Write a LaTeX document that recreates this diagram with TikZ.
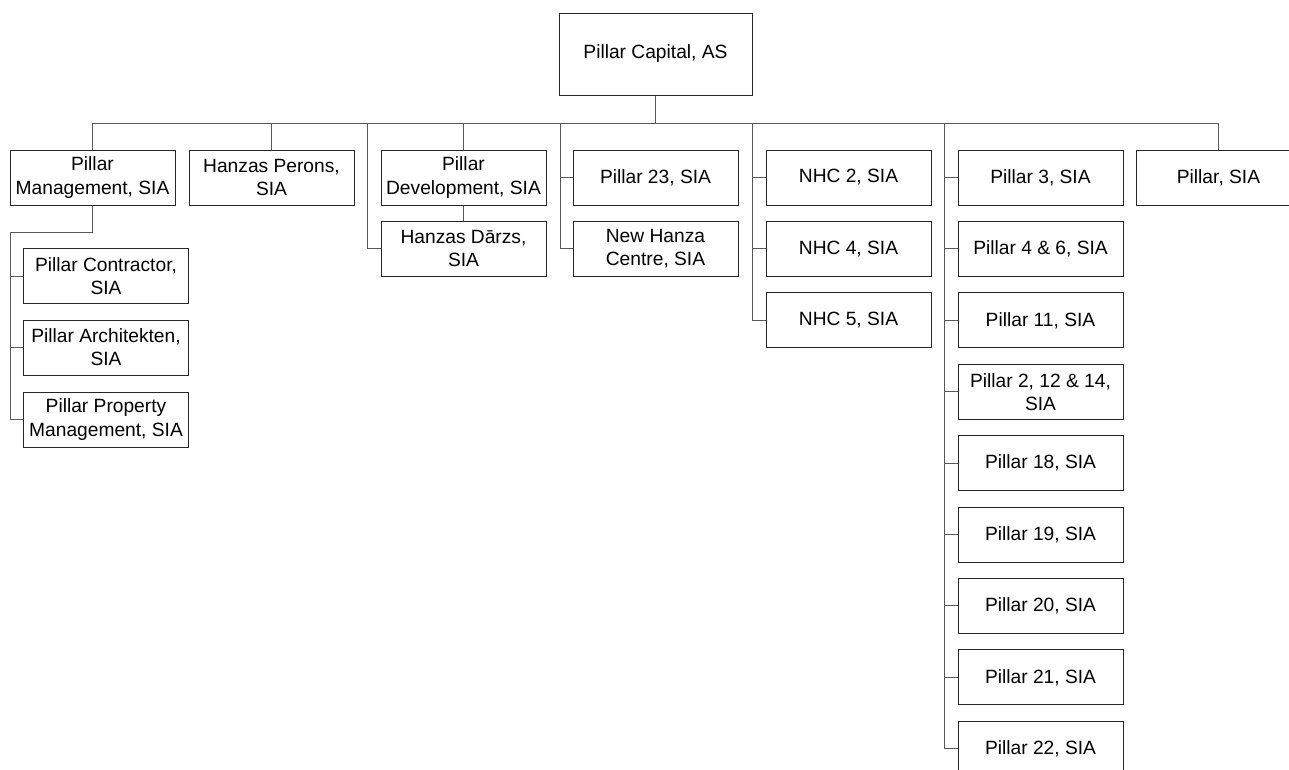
\documentclass[tikz,border=0pt]{standalone}
\usepackage{fontspec}
\setmainfont{Liberation Sans}
\usepackage{tikz}
\tikzstyle{unit}=[draw=black!85, line width=0.75pt, minimum width=123.75pt, minimum height=41.25pt, inner sep=1pt, align=center, font=\fontsize{14.4}{17.3}\selectfont]
\tikzstyle{link}=[draw=black!65, line width=0.75pt]
\begin{document}
\begin{tikzpicture}[x=0.75pt,y=-0.75pt]
 \useasboundingbox (0,0) rectangle (1289,769);
 \node[unit, minimum width=144.75pt, minimum height=61.5pt] (cap) at (655.5,54) {Pillar Capital, AS};
%
 \node[unit] (mgmt) at (92.5,177.5) {Pillar\\Management, SIA};
 \node[unit] (perons) at (271.5,177.5) {Hanzas Perons,\\SIA};
 \node[unit] (dev) at (463.5,177.5) {Pillar\\Development, SIA};
 \node[unit] (darzs) at (463.5,248.5) {Hanzas Dārzs,\\SIA};
 \node[unit] (p23) at (655.5,177.5) {Pillar 23, SIA};
 \node[unit] (centre) at (655.5,248.5) {New Hanza\\Centre, SIA};
 \node[unit] (pillar) at (1218.5,177.5) {Pillar, SIA};
%
 \node[unit] (contr) at (106,276) {Pillar Contractor,\\SIA};
 \node[unit] (arch) at (106,347.5) {Pillar Architekten,\\SIA};
 \node[unit] (prop) at (106,419.5) {Pillar Property\\Management, SIA};
%
 \foreach \txt [count=\i] in {NHC 2, NHC 4, NHC 5}
  \node[unit] (nhc\i) at (848.5,{177.5+71.4*(\i-1)}) {\txt, SIA};
 \foreach \txt [count=\i] in {{Pillar 3, SIA},{Pillar 4 \& 6, SIA},{Pillar 11, SIA},{Pillar 2, 12 \& 14,\\SIA},{Pillar 18, SIA},{Pillar 19, SIA},{Pillar 20, SIA},{Pillar 21, SIA},{Pillar 22, SIA}}
  \node[unit] (p\i) at (1040.5,{177.5+71.4*(\i-1)}) {\txt};
%
 \coordinate (bus) at (0,123);
 \draw[link] (mgmt |- bus) -- (pillar |- bus);
 \draw[link] (cap) -- (cap |- bus);
 \foreach \n in {mgmt,perons,dev,pillar}
  \draw[link] (\n) -- (\n |- bus);
 \draw[link] (dev) -- (darzs);
 \coordinate (devbus) at (367,123);
 \draw[link] (devbus) |- (darzs.west);
 \coordinate (p23bus) at (560,123);
 \draw[link] (p23bus) |- (p23.west);
 \draw[link] (p23bus) |- (centre.west);
 \coordinate (nhcbus) at (752,123);
 \foreach \i in {1,2,3}
  \draw[link] (nhcbus) |- (nhc\i.west);
 \coordinate (pbus) at (944,123);
 \foreach \i in {1,...,9}
  \draw[link] (pbus) |- (p\i.west);
%
 \coordinate (mgmtbus) at (10,232);
 \draw[link] (mgmt) |- (mgmtbus);
 \foreach \n in {contr,arch,prop}
  \draw[link] (mgmtbus) |- (\n.west);
\end{tikzpicture}
\end{document}
